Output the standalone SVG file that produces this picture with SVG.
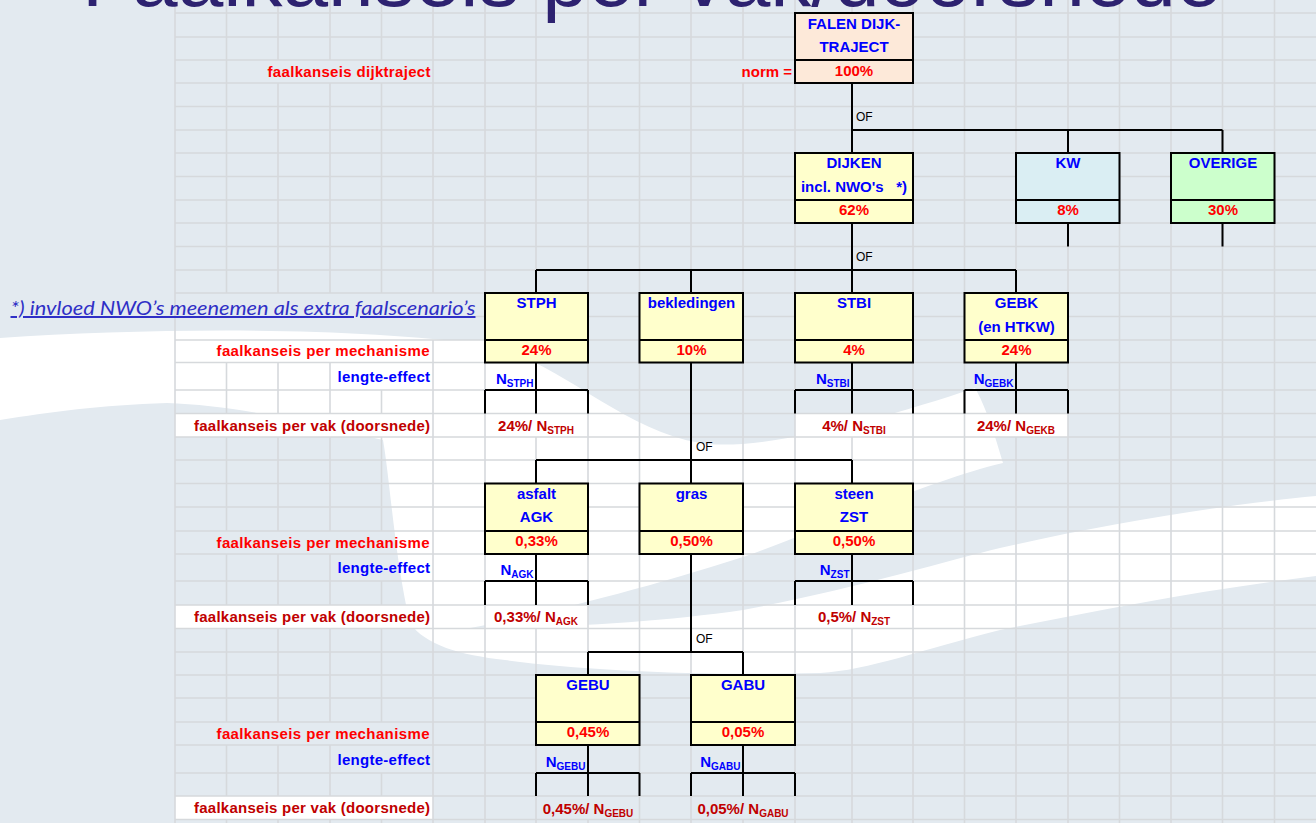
<svg xmlns="http://www.w3.org/2000/svg" width="1316" height="823" viewBox="0 0 1316 823">
<style>
.g{stroke:#D6D9DC;stroke-width:1.6;fill:none}
.c{stroke:#000;stroke-width:2;fill:none}
.bx{stroke:#000;stroke-width:2}
.t{font-family:"Liberation Sans",Arial,sans-serif;font-weight:bold;font-size:15px;text-anchor:middle}
.lab{font-family:"Liberation Sans",Arial,sans-serif;font-weight:bold;font-size:15px}
.hb{fill:#0000FF}
.pr{fill:#FF0000}
.dr{fill:#C00000}
.sub{font-size:10px}
.of{font-family:"Liberation Sans",Arial,sans-serif;font-size:12px;fill:#000}
.wc{fill:#FFFFFF}
</style>
<!-- background -->
<rect x="0" y="0" width="1316" height="823" fill="#E3EAF0"/>
<path fill="#FFFFFF" d="M0 338 C150 328 350 326 485 345 C560 360 620 430 700 443 C760 452 880 420 975 388 C985 405 995 435 1003 463 C930 480 820 530 743 557 C640 590 540 615 470 628 C560 628 660 622 743 610 C850 590 950 560 1000 548 C1100 525 1220 505 1316 496 L1316 576 C1200 590 1100 610 1000 630 C920 650 870 670 820 673 C700 676 580 670 505 660 C460 655 425 645 410 623 C395 560 390 480 383 440 C300 420 230 405 167 403 C100 405 50 412 0 420 Z"/>
<!-- white cells -->
<g id="cellfills">
<rect class="wc" x="175" y="340" width="310" height="22.5"/>
<rect class="wc" x="175" y="413.5" width="258" height="23.5"/>
<rect class="wc" x="175" y="605" width="258" height="23.5"/>
<rect class="wc" x="175" y="796" width="258" height="23.5"/>
<rect class="wc" x="485" y="413.5" width="103" height="23.5"/>
<rect class="wc" x="795" y="413.5" width="118" height="23.5"/>
<rect class="wc" x="964.5" y="413.5" width="103.5" height="23.5"/>
<rect class="wc" x="485" y="605" width="103" height="23.5"/>
<rect class="wc" x="795" y="605" width="118" height="23.5"/>
</g>
<!-- grid -->
<g id="grid" class="g">
<path d="M175 13H1316M175 37H1316M175 60H1316M175 83H1316M175 106.5H1316M175 130H1316M175 153H1316M175 176.5H1316M175 200H1316M175 223H1316M175 246.5H1316M175 270H1316M175 293H1316M476 316.5H1316M175 340H1316M175 362.5H1316M175 390H1316M175 413.5H1316M175 437H1316M175 460H1316M175 483.5H1316M175 507H1316M175 531H1316M175 554H1316M175 581H1316M175 605H1316M175 628.5H1316M175 652H1316M175 675H1316M175 698H1316M175 722H1316M175 745H1316M175 773H1316M175 796H1316M175 819.5H1316"/>
<path d="M175 0V823M485 0V823M639.5 0V823M691 0V823M795 0V823M913 0V823M964.5 0V823M1068 0V823M1119.5 0V823M1171 0V823M1222.5 0V823M1274.5 0V823"/>
<path d="M226.5 0V293M226.5 362.5V413.5M226.5 437V531M226.5 554V605M226.5 628.5V722M226.5 745V796M226.5 819.5V823"/>
<path d="M278 0V60M278 83V293M278 362.5V413.5M278 437V531M278 554V605M278 628.5V722M278 745V796M278 819.5V823"/>
<path d="M330 0V60M330 83V293M330 362.5V413.5M330 437V531M330 554V605M330 628.5V722M330 745V796M330 819.5V823"/>
<path d="M381.5 0V60M381.5 83V293M381.5 390V413.5M381.5 437V531M381.5 581V605M381.5 628.5V722M381.5 773V796M381.5 819.5V823"/>
<path d="M433 0V293M433 340V823"/>
<path d="M536 0V413.5M536 437V605M536 628.5V823"/>
<path d="M588 0V796M588 819.5V823"/>
<path d="M743 0V60M743 83V796M743 819.5V823"/>
<path d="M852 0V413.5M852 437V605M852 628.5V823"/>
<path d="M1016 0V413.5M1016 437V823"/>
</g>
<!-- title -->
<text x="82" y="6" font-family="Liberation Sans, Arial, sans-serif" font-size="82" fill="#2D2270">Faalkanseis per vak/doorsnede</text>
<!-- note -->
<g id="note">
<text x="10.5" y="315" font-family="Lato, 'Liberation Sans', sans-serif" font-style="italic" font-size="20" fill="#2F2FC6" text-decoration="underline" textLength="465" lengthAdjust="spacingAndGlyphs">*) invloed NWO’s meenemen als extra faalscenario’s</text>
</g>
<!-- row labels -->
<g id="labels">
<text class="lab pr" x="267.5" y="76.5" textLength="163">faalkanseis dijktraject</text>
<text class="lab pr" x="792" y="76.5" text-anchor="end">norm =</text>
<text class="lab pr" x="216.5" y="356" textLength="213">faalkanseis per mechanisme</text>
<text class="lab pr" x="216.5" y="547.5" textLength="213">faalkanseis per mechanisme</text>
<text class="lab pr" x="216.5" y="738.5" textLength="213">faalkanseis per mechanisme</text>
<text class="lab hb" x="337.5" y="382" textLength="92.5">lengte-effect</text>
<text class="lab hb" x="337.5" y="573" textLength="92.5">lengte-effect</text>
<text class="lab hb" x="337.5" y="765" textLength="92.5">lengte-effect</text>
<text class="lab dr" x="194" y="430.5" textLength="236">faalkanseis per vak (doorsnede)</text>
<text class="lab dr" x="194" y="622" textLength="236">faalkanseis per vak (doorsnede)</text>
<text class="lab dr" x="194" y="813" textLength="236">faalkanseis per vak (doorsnede)</text>
</g>
<!-- connectors -->
<g id="connectors" class="c">
<path d="M852 83V130M852 130H1222.5M852 130V153M1068 130V153M1222.5 130V153"/>
<path d="M1068 223V246.5M1222.5 223V246.5"/>
<path d="M852 223V270M536 270H1016M536 270V293M691 270V293M852 270V293M1016 270V293"/>
<path d="M536 362.5V390M485 390H588M485 390V413.5M536 390V413.5M588 390V413.5"/>
<path d="M852 362.5V390M795 390H913M795 390V413.5M852 390V413.5M913 390V413.5"/>
<path d="M1016 362.5V390M964.5 390H1068M964.5 390V413.5M1016 390V413.5M1068 390V413.5"/>
<path d="M691 362.5V460M536 460H852M536 460V483.5M691 460V483.5M852 460V483.5"/>
<path d="M536 554V581M485 581H588M485 581V605M536 581V605M588 581V605"/>
<path d="M852 554V581M795 581H913M795 581V605M852 581V605M913 581V605"/>
<path d="M691 554V652M588 652H743M588 652V675M743 652V675"/>
<path d="M588 745V773M536 773H639.5M536 773V796M588 773V796M639.5 773V796"/>
<path d="M743 745V773M691 773H795M691 773V796M743 773V796M795 773V796"/>
</g>
<g id="of-labels">
<text class="of" x="856" y="121">OF</text>
<text class="of" x="856" y="261">OF</text>
<text class="of" x="696" y="451">OF</text>
<text class="of" x="696" y="643">OF</text>
</g>
<!-- nodes -->
<g id="falen">
<rect class="bx" x="795" y="13" width="118" height="70" fill="#FDE9D9"/>
<path class="c" d="M795 60H913"/>
<text class="t hb" x="854" y="28.5" font-size="14">FALEN DIJK-</text>
<text class="t hb" x="854" y="52" font-size="14">TRAJECT</text>
<text class="t pr" x="854" y="75.5">100%</text>
</g>
<g id="dijken">
<rect class="bx" x="795" y="153" width="118" height="70" fill="#FFFFCC"/>
<path class="c" d="M795 200H913"/>
<text class="t hb" x="854" y="168" font-size="14.5">DIJKEN</text>
<text class="t hb" x="854" y="191.5" font-size="14.5" xml:space="preserve">incl. NWO's   *)</text>
<text class="t pr" x="854" y="214.5">62%</text>
</g>
<g id="kw">
<rect class="bx" x="1016" y="153" width="103.5" height="70" fill="#DAEEF3"/>
<path class="c" d="M1016 200H1119.5"/>
<text class="t hb" x="1068" y="168" font-size="14.5">KW</text>
<text class="t pr" x="1068" y="214.5">8%</text>
</g>
<g id="overige">
<rect class="bx" x="1171" y="153" width="103.5" height="70" fill="#CCFFCC"/>
<path class="c" d="M1171 200H1274.5"/>
<text class="t hb" x="1223" y="168" font-size="14.5">OVERIGE</text>
<text class="t pr" x="1223" y="214.5">30%</text>
</g>
<g id="stph">
<rect class="bx" x="485" y="293" width="103" height="69.5" fill="#FFFFCC"/>
<path class="c" d="M485 340H588"/>
<text class="t hb" x="536.5" y="308">STPH</text>
<text class="t pr" x="536.5" y="354.5">24%</text>
</g>
<g id="bekledingen">
<rect class="bx" x="639.5" y="293" width="103.5" height="69.5" fill="#FFFFCC"/>
<path class="c" d="M639.5 340H743"/>
<text class="t hb" x="691.5" y="308">bekledingen</text>
<text class="t pr" x="691.5" y="354.5">10%</text>
</g>
<g id="stbi">
<rect class="bx" x="795" y="293" width="118" height="69.5" fill="#FFFFCC"/>
<path class="c" d="M795 340H913"/>
<text class="t hb" x="854" y="308">STBI</text>
<text class="t pr" x="854" y="354.5">4%</text>
</g>
<g id="gebk">
<rect class="bx" x="964.5" y="293" width="103.5" height="69.5" fill="#FFFFCC"/>
<path class="c" d="M964.5 340H1068"/>
<text class="t hb" x="1016.5" y="308">GEBK</text>
<text class="t hb" x="1016.5" y="331.5">(en HTKW)</text>
<text class="t pr" x="1016.5" y="354.5">24%</text>
</g>
<g id="asfalt">
<rect class="bx" x="485" y="483.5" width="103" height="70.5" fill="#FFFFCC"/>
<path class="c" d="M485 531H588"/>
<text class="t hb" x="536.5" y="498.5">asfalt</text>
<text class="t hb" x="536.5" y="522">AGK</text>
<text class="t pr" x="536.5" y="545.5">0,33%</text>
</g>
<g id="gras">
<rect class="bx" x="639.5" y="483.5" width="103.5" height="70.5" fill="#FFFFCC"/>
<path class="c" d="M639.5 531H743"/>
<text class="t hb" x="691.5" y="498.5">gras</text>
<text class="t pr" x="691.5" y="545.5">0,50%</text>
</g>
<g id="steen">
<rect class="bx" x="795" y="483.5" width="118" height="70.5" fill="#FFFFCC"/>
<path class="c" d="M795 531H913"/>
<text class="t hb" x="854" y="498.5">steen</text>
<text class="t hb" x="854" y="522">ZST</text>
<text class="t pr" x="854" y="545.5">0,50%</text>
</g>
<g id="gebu">
<rect class="bx" x="536" y="675" width="103.5" height="70" fill="#FFFFCC"/>
<path class="c" d="M536 722H639.5"/>
<text class="t hb" x="588" y="690">GEBU</text>
<text class="t pr" x="588" y="736.5">0,45%</text>
</g>
<g id="gabu">
<rect class="bx" x="691" y="675" width="104" height="70" fill="#FFFFCC"/>
<path class="c" d="M691 722H795"/>
<text class="t hb" x="743" y="690">GABU</text>
<text class="t pr" x="743" y="736.5">0,05%</text>
</g>
<!-- length-effect and section values -->
<g id="n-labels">
<text class="lab hb" x="533.5" y="384" text-anchor="end">N<tspan class="sub" dy="3">STPH</tspan></text>
<text class="lab hb" x="849.5" y="384" text-anchor="end">N<tspan class="sub" dy="3">STBI</tspan></text>
<text class="lab hb" x="1013.5" y="384" text-anchor="end">N<tspan class="sub" dy="3">GEBK</tspan></text>
<text class="lab hb" x="533.5" y="575" text-anchor="end">N<tspan class="sub" dy="3">AGK</tspan></text>
<text class="lab hb" x="849.5" y="575" text-anchor="end">N<tspan class="sub" dy="3">ZST</tspan></text>
<text class="lab hb" x="585.5" y="767" text-anchor="end">N<tspan class="sub" dy="3">GEBU</tspan></text>
<text class="lab hb" x="740.5" y="767" text-anchor="end">N<tspan class="sub" dy="3">GABU</tspan></text>
</g>
<g id="vak-values">
<text class="t dr" x="536" y="430.5">24%/ N<tspan class="sub" dy="3">STPH</tspan></text>
<text class="t dr" x="854" y="430.5">4%/ N<tspan class="sub" dy="3">STBI</tspan></text>
<text class="t dr" x="1016" y="430.5">24%/ N<tspan class="sub" dy="3">GEKB</tspan></text>
<text class="t dr" x="536" y="622">0,33%/ N<tspan class="sub" dy="3">AGK</tspan></text>
<text class="t dr" x="854" y="622">0,5%/ N<tspan class="sub" dy="3">ZST</tspan></text>
<text class="t dr" x="588" y="813.5">0,45%/ N<tspan class="sub" dy="3">GEBU</tspan></text>
<text class="t dr" x="743" y="813.5">0,05%/ N<tspan class="sub" dy="3">GABU</tspan></text>
</g>
</svg>
